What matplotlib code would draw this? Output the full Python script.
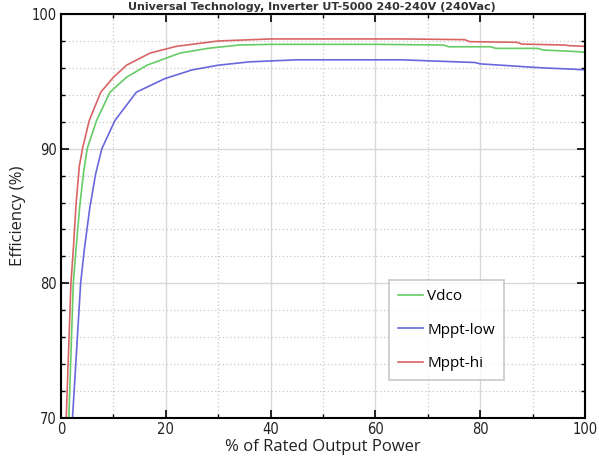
import matplotlib
matplotlib.use("Agg")
import matplotlib.pyplot as plt
from matplotlib.ticker import MultipleLocator

# ---- data ----
title_text = "Universal Technology, Inverter UT-5000 240-240V (240Vac)"
series_names = ["Vdco", "Mppt-low", "Mppt-hi"]

vdco_x = [1.5, 2.35, 2.86, 3.6, 4.3, 5.0, 6.8, 9.35, 12.5, 16.4, 22.7, 28, 34, 40, 60, 73, 74, 82, 83, 91, 92, 99, 100]
vdco_y = [70, 80, 82.5, 85.8, 88.2, 90, 92.1, 94.2, 95.3, 96.2, 97.1, 97.45, 97.7, 97.75, 97.75, 97.7, 97.57, 97.57, 97.45, 97.45, 97.33, 97.2, 97.15]

low_x = [2.2, 3.75, 4.45, 5.5, 6.6, 7.8, 10.3, 14.4, 19.8, 25, 30, 36, 45, 65, 72, 79, 80, 86, 92, 98, 100]
low_y = [70, 80, 82.5, 85.6, 88.1, 90, 92.1, 94.2, 95.2, 95.85, 96.2, 96.45, 96.6, 96.6, 96.5, 96.4, 96.3, 96.15, 96.0, 95.9, 95.85]

hi_x = [1.0, 1.9, 2.35, 2.9, 3.5, 4.1, 5.4, 7.6, 10, 12.5, 17, 22, 30, 40, 65, 77, 78, 87, 88, 96, 97, 100]
hi_y = [70, 80, 82.5, 86.0, 88.7, 90, 92.1, 94.2, 95.3, 96.2, 97.1, 97.6, 98.0, 98.15, 98.15, 98.1, 97.95, 97.9, 97.77, 97.7, 97.65, 97.6]

x_ticks = [0, 20, 40, 60, 80, 100]
y_ticks = [70, 80, 90, 100]

colors = ["#66cc66", "#6868dd", "#d96464"]

fig = plt.figure(figsize=(5.99, 4.68), dpi=100)
ax = fig.add_axes([0.1018, 0.1068, 0.8748, 0.8632])

ax.plot(vdco_x, vdco_y, color=colors[0], lw=1.2, label=series_names[0])
ax.plot(low_x, low_y, color=colors[1], lw=1.2, label=series_names[1])
ax.plot(hi_x, hi_y, color=colors[2], lw=1.2, label=series_names[2])

ax.set_xlim(0, 100)
ax.set_ylim(70, 100)
ax.set_xticks(x_ticks)
ax.set_yticks(y_ticks)
ax.xaxis.set_minor_locator(MultipleLocator(10))
ax.yaxis.set_minor_locator(MultipleLocator(2))

ax.grid(which="major", color="#d8d8d8", lw=1.0, ls="-")
ax.grid(which="minor", color="#c8c8c8", lw=0.9, ls=(0, (1, 2)))
ax.set_axisbelow(True)

for s in ax.spines.values():
    s.set_linewidth(1.5)
    s.set_color("black")

ax.tick_params(which="both", direction="in", top=True, right=True, colors="black",
               labelcolor="#222222")
ax.tick_params(which="major", length=6, width=1.2, labelsize=10, pad=3)
ax.tick_params(which="minor", length=3, width=1.0)

for lab in ax.get_xticklabels() + ax.get_yticklabels():
    lab.set_family("DejaVu Sans")
    lab.set_stretch("condensed")
    lab.set_fontsize(10.5)

ax.set_xlabel("% of Rated Output Power", fontsize=12, family=["Open Sans", "DejaVu Sans"], labelpad=1, color="#222222")
ax.set_ylabel("Efficiency (%)", fontsize=12, family=["Open Sans", "DejaVu Sans"], labelpad=4, color="#222222")

leg = ax.legend(loc="lower left", bbox_to_anchor=(0.626, 0.094), frameon=True, fancybox=False,
                handlelength=1.6, handletextpad=0.3, borderpad=0.6, labelspacing=1.2,
                prop={"family": ["Open Sans", "DejaVu Sans"], "size": 11}, borderaxespad=0)
leg.get_frame().set_edgecolor("#bbbbbb")
leg.get_frame().set_linewidth(1.2)

fig.text(0.52, 0.995, title_text, ha="center", va="top", fontsize=8, fontweight="bold",
         color="#333333", family=["DejaVu Sans"])

fig.savefig("out.png", dpi=100)
